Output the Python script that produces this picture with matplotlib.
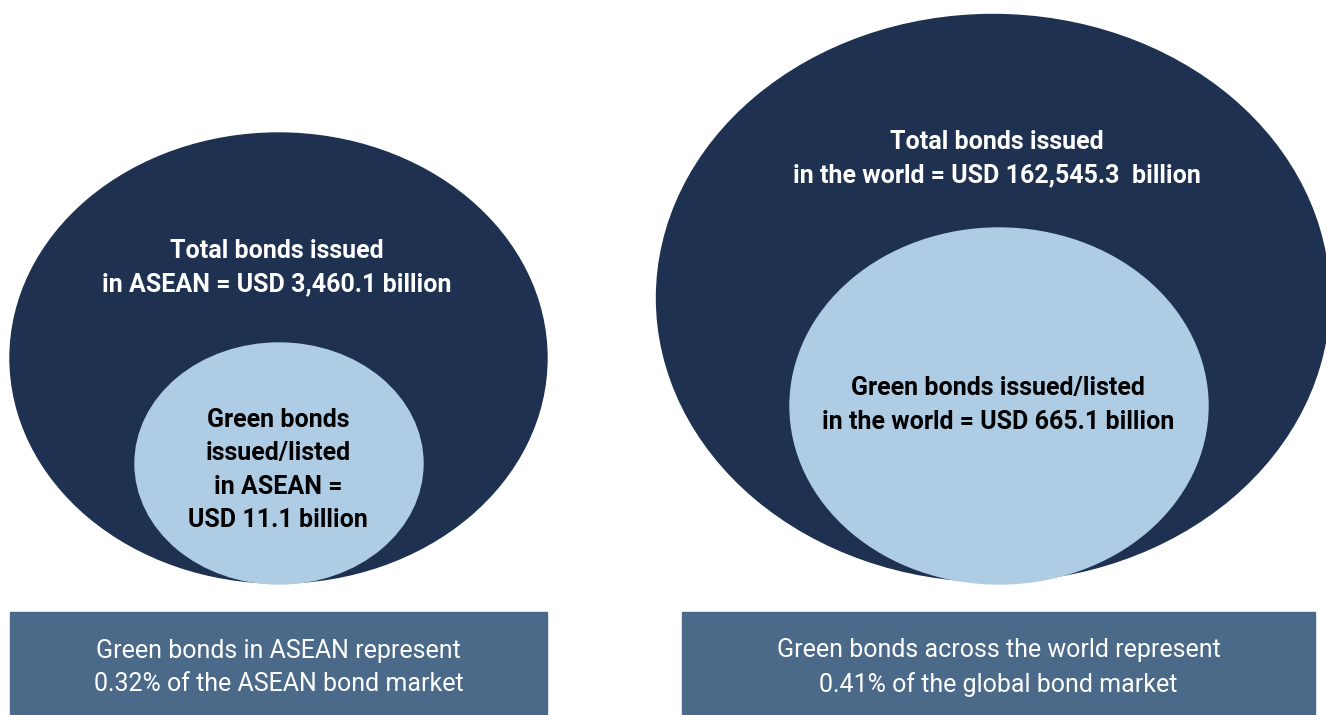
import matplotlib.pyplot as plt
from matplotlib.patches import Ellipse, Rectangle

# data
regions = ["ASEAN", "world"]
total_bonds = [3460.1, 162545.3]   # USD billion
green_bonds = [11.1, 665.1]        # USD billion
green_share = [0.32, 0.41]         # % of bond market

outer_labels = ["Total bonds issued\nin ASEAN = USD {:,.1f} billion".format(total_bonds[0]),
                "Total bonds issued\nin the world = USD {:,.1f}  billion".format(total_bonds[1])]
inner_labels = ["Green bonds\nissued/listed\nin ASEAN =\nUSD {:,.1f} billion".format(green_bonds[0]),
                "Green bonds issued/listed\nin the world = USD {:,.1f} billion".format(green_bonds[1])]
box_labels = ["Green bonds in ASEAN represent\n{:.2f}% of the ASEAN bond market".format(green_share[0]),
              "Green bonds across the world represent\n{:.2f}% of the global bond market".format(green_share[1])]

navy = "#1f3150"
light = "#aecde5"
boxc = "#4b6a8a"

plt.rcParams['font.family'] = ['Roboto', 'DejaVu Sans']

fig = plt.figure(figsize=(13.26, 7.15), dpi=100)
ax = fig.add_axes([0, 0, 1, 1])
ax.set_xlim(0, 1326)
ax.set_ylim(715, 0)
ax.axis('off')

# layout (pixel coords)
outer = [((278.5, 358), 537, 450), ((993, 298), 673, 567)]
inner = [((279, 463.5), 288, 241), ((999, 406), 418, 356)]
outer_txt = [(277, 267.5), (997, 158.5)]
inner_txt = [(278, 470), (998, 405)]
boxes = [(10, 612, 537), (682, 612, 633)]

for i in range(len(regions)):
    c, w, h = outer[i]
    ax.add_patch(Ellipse(c, w, h, color=navy, zorder=1))
    c, w, h = inner[i]
    ax.add_patch(Ellipse(c, w, h, color=light, zorder=2))
    ax.text(outer_txt[i][0], outer_txt[i][1], outer_labels[i], color="white",
            fontsize=18, fontweight="bold", ha="center", va="center",
            linespacing=1.5, zorder=3)
    ax.text(inner_txt[i][0], inner_txt[i][1], inner_labels[i], color="black",
            fontsize=18, fontweight="bold", ha="center", va="center",
            linespacing=1.5, zorder=3)
    x0, y0, bw = boxes[i]
    ax.add_patch(Rectangle((x0, y0), bw, 715 - y0 + 5, color=boxc, zorder=1))
    ax.text(x0 + bw / 2, 667.5, box_labels[i], color="white", fontsize=18,
            ha="center", va="center", linespacing=1.5, zorder=3)

fig.savefig("out.png", dpi=100)
